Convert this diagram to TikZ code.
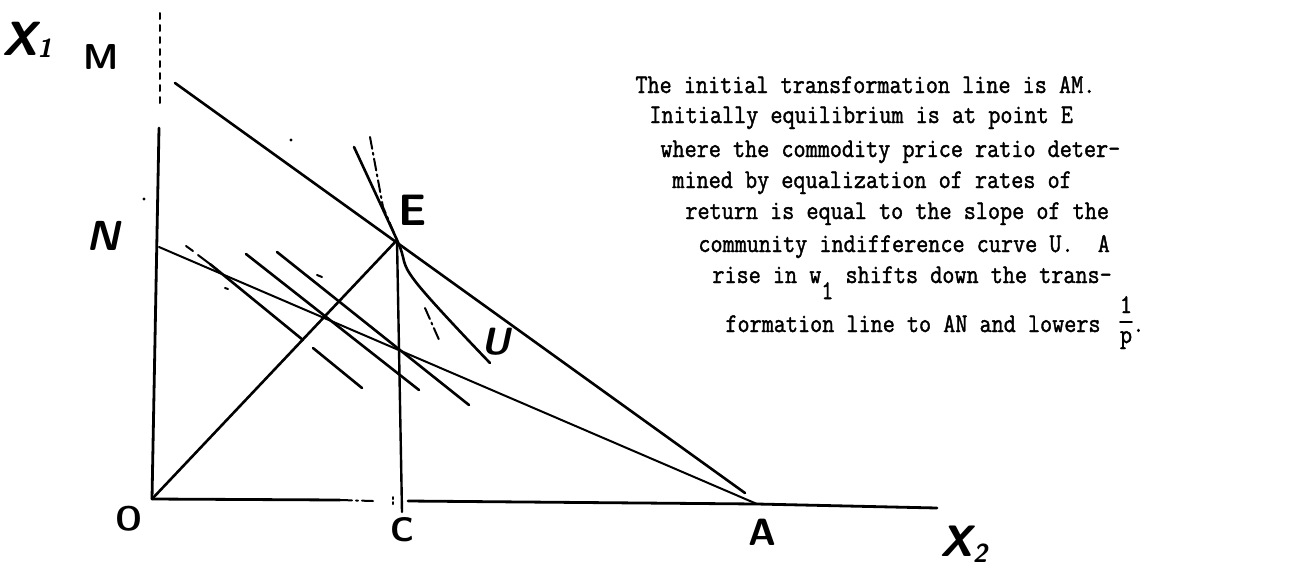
\documentclass[tikz,border=0pt]{standalone}
\usepackage{fontspec}
\setmainfont{Liberation Sans}
\setmonofont{Latin Modern Mono}[AutoFakeBold=1.6]
\newcommand{\tallt}[1]{\scalebox{1}[1.15]{#1}}
\begin{document}
\frenchspacing
\begin{tikzpicture}[x=0.5pt,y=-0.5pt,line cap=round,line join=round,
  axisline/.style={line width=1.4pt},
  mainline/.style={line width=1.3pt},
  thinline/.style={line width=1.0pt},
  dashline/.style={line width=1.0pt,dash pattern=on 6pt off 2pt on 1pt off 2pt},
  lab/.style={inner sep=0pt,font=\sffamily\bfseries\fontsize{17}{17}\selectfont},
  txt/.style={inner sep=0pt,anchor=base west,font=\ttfamily\bfseries\fontsize{11.75}{13}\selectfont}]
\useasboundingbox (0,0) rectangle (1299,568);

% key points
\coordinate (O) at (152,499);
\coordinate (E) at (397,240);
\coordinate (A) at (757,504);
\coordinate (Mend) at (175,83);
\coordinate (MAend) at (745,493);
\coordinate (Nax) at (159,247);
\coordinate (Cbot) at (402,512);
\coordinate (Ytop) at (160,13);
\coordinate (Ydash) at (160,107);
\coordinate (Ysol) at (159,128);
\coordinate (Xa) at (340,500);
\coordinate (Xb) at (373,501);
\coordinate (Xc) at (408,501);
\coordinate (Xend) at (937,508);

% axes
\draw[thinline,dash pattern=on 3pt off 3pt] (Ytop) -- (Ydash);
\draw[axisline] (Ysol) -- (O);
\draw[axisline] (O) -- (Xa);
\draw[thinline,dash pattern=on 6pt off 2pt on 1pt off 2pt] (Xa) -- (Xb);
\draw[thinline] (393,497) -- (393,499) (393,502) -- (393,504);
\draw[axisline] (Xc) -- (A) -- (Xend);

% transformation lines
\draw[mainline] (Mend) -- (MAend);
\draw[thinline] (Nax) -- (A);

% ray OE and vertical EC
\draw[mainline] (O) -- (E);
\draw[line width=1.2pt] (E) -- (Cbot);

% indifference curve U and price line
\draw[mainline] plot[smooth,tension=0.6] coordinates {(354,147) (397,240) (415,281) (490,363)};
\draw[dashline] (370,137) -- (383,207) -- (E);
\draw[dashline] (425,308) -- (440,342);

% parallel price lines
\draw[thinline] (186,246) -- (193,251) (198,255) -- (210,264);
\draw[mainline] (210,264) -- (303,340);
\draw[mainline] (313,348) -- (362,388);
\draw[mainline] (246,254) -- (419,390);
\draw[mainline] (277,252) -- (469,405);

% small specks
\draw[thinline] (317,275) -- (322,277);
\draw[thinline] (225,288) -- (228,289);
\fill (144,199) circle (1.6);
\fill (291,140) circle (1.6);

% labels
\node[lab,font=\sffamily\bfseries\itshape\fontsize{24}{24}\selectfont] (lx1) at (27,40) {X\raisebox{-1pt}{\fontsize{13}{13}\selectfont 1}};
\node[lab,font=\sffamily\bfseries\fontsize{18}{18}\selectfont] (lM) at (101,57) {M};
\node[lab,font=\sffamily\bfseries\itshape\fontsize{21}{21}\selectfont] (lN) at (103,236) {N};
\node[lab,font=\sffamily\bfseries\fontsize{22}{22}\selectfont] (lE) at (413,210) {E};
\node[lab,font=\sffamily\bfseries\itshape\fontsize{19}{19}\selectfont] (lU) at (496,342) {U};
\node[lab] (lO) at (129,519) {O};
\node[lab] (lC) at (402,530) {C};
\node[lab,font=\sffamily\bfseries\fontsize{19}{19}\selectfont] (lA) at (762,532) {A};
\node[lab,font=\sffamily\bfseries\itshape\fontsize{22}{22}\selectfont] (lx2) at (964,544) {X\raisebox{-3pt}{\fontsize{13}{13}\selectfont 2}};

% explanatory text
\node[txt] (t1) at (635,93) {\tallt{The initial transformation line is AM.}};
\node[txt] (t2) at (649,123) {\tallt{Initially equilibrium is at point E}};
\node[txt] (t3) at (660,157) {\tallt{where the commodity price ratio deter-}};
\node[txt] (t4) at (672,188) {\tallt{mined by equalization of rates of}};
\node[txt] (t5) at (685,219) {\tallt{return is equal to the slope of the}};
\node[txt] (t6) at (698,252) {\tallt{community indifference curve U.\ \ A}};
\node[txt] (t7) at (712,283) {\tallt{rise in w\raisebox{-7pt}{1} shifts down the trans-}};
\node[txt] (t8) at (725,332) {\tallt{formation line to AN and lowers}};
\node[txt,anchor=base] (fn) at (1126,313) {\tallt{1}};
\draw[line width=0.9pt] (1120,322) -- (1132,322);
\node[txt,anchor=base] (fd) at (1126,343) {\tallt{p}};
\node[txt] (fdot) at (1132,332) {\tallt{.}};
\end{tikzpicture}
\end{document}
